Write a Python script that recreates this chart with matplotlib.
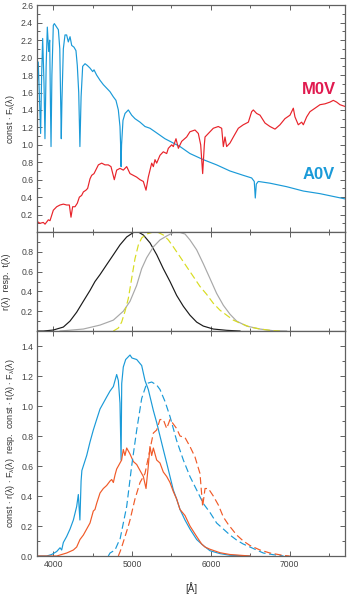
import matplotlib
matplotlib.use("Agg")
import matplotlib.pyplot as plt
from matplotlib.ticker import MultipleLocator, FixedLocator
import numpy as np

plt.rcParams['font.family'] = ['Liberation Sans', 'DejaVu Sans']
plt.rcParams['mathtext.fontset'] = 'custom'
plt.rcParams['mathtext.rm'] = 'Liberation Sans'
plt.rcParams['mathtext.it'] = 'Liberation Sans:italic'

# ---------------- Top panel: spectra ----------------
a0v_lam = [3800, 3812, 3825, 3842, 3855, 3868, 3885, 3897, 3912, 3927, 3944, 3957, 3966, 3974, 3985,
           4003, 4016, 4045, 4067, 4085, 4098, 4104, 4112, 4130, 4151, 4172, 4193, 4215, 4236, 4265,
           4290, 4307, 4325, 4340, 4355, 4375, 4405, 4434, 4468, 4502, 4519, 4552, 4595, 4637, 4679,
           4721, 4764, 4797, 4827, 4848, 4856, 4862, 4868, 4886, 4912, 4954, 4996, 5038, 5102, 5165,
           5228, 5292, 5355, 5418, 5482, 5524, 5609, 5735, 5904, 6073, 6242, 6411, 6517, 6550, 6563,
           6576, 6601, 6749, 6960, 7172, 7383, 7594, 7700]
a0v_flux = [1.70, 1.95, 1.60, 1.13, 1.80, 2.22, 1.70, 1.07, 1.90, 2.35, 2.07, 2.20, 1.50, 0.98, 1.80,
            2.37, 2.39, 2.35, 2.32, 2.10, 1.40, 1.07, 1.50, 2.10, 2.26, 2.26, 2.18, 2.24, 2.14, 2.12,
            2.08, 1.91, 1.60, 0.98, 1.55, 1.90, 1.93, 1.91, 1.88, 1.84, 1.86, 1.80, 1.74, 1.69, 1.65,
            1.61, 1.55, 1.51, 1.40, 1.21, 1.00, 0.75, 1.00, 1.28, 1.36, 1.40, 1.34, 1.30, 1.26, 1.21,
            1.19, 1.15, 1.11, 1.07, 1.04, 1.02, 0.98, 0.90, 0.83, 0.77, 0.70, 0.65, 0.62, 0.58, 0.39,
            0.55, 0.58, 0.56, 0.52, 0.47, 0.44, 0.40, 0.38]

m0v_lam = [3800, 3834, 3876, 3898, 3940, 3961, 3982, 4003, 4046, 4088, 4130, 4172, 4206, 4227, 4248,
           4278, 4307, 4333, 4362, 4384, 4417, 4438, 4468, 4489, 4519, 4552, 4574, 4616, 4658, 4700,
           4734, 4776, 4806, 4848, 4890, 4933, 4975, 5017, 5059, 5102, 5144, 5178, 5207, 5250, 5271,
           5292, 5313, 5355, 5397, 5440, 5461, 5482, 5503, 5524, 5558, 5588, 5630, 5693, 5735, 5799,
           5841, 5871, 5896, 5917, 5926, 5968, 6031, 6094, 6137, 6158, 6179, 6200, 6242, 6285, 6348,
           6411, 6475, 6517, 6538, 6580, 6623, 6686, 6749, 6813, 6876, 6939, 7003, 7045, 7066, 7108,
           7151, 7172, 7214, 7256, 7320, 7383, 7446, 7510, 7552, 7594, 7637, 7700]
m0v_flux = [0.12, 0.10, 0.11, 0.09, 0.14, 0.13, 0.19, 0.25, 0.29, 0.31, 0.32, 0.31, 0.31, 0.17, 0.29,
            0.29, 0.33, 0.40, 0.42, 0.46, 0.48, 0.50, 0.61, 0.65, 0.67, 0.73, 0.77, 0.79, 0.77, 0.77,
            0.75, 0.60, 0.71, 0.73, 0.71, 0.75, 0.67, 0.65, 0.63, 0.60, 0.58, 0.48, 0.63, 0.79, 0.75,
            0.83, 0.79, 0.88, 0.92, 0.90, 0.96, 0.98, 1.00, 0.98, 1.07, 0.96, 1.04, 1.09, 1.15, 1.17,
            1.13, 1.00, 0.67, 1.00, 1.09, 1.13, 1.19, 1.21, 1.19, 0.98, 1.09, 0.98, 1.02, 1.09, 1.19,
            1.23, 1.26, 1.38, 1.40, 1.36, 1.34, 1.25, 1.21, 1.18, 1.23, 1.30, 1.34, 1.42, 1.32, 1.23,
            1.26, 1.23, 1.32, 1.38, 1.42, 1.46, 1.47, 1.49, 1.51, 1.49, 1.46, 1.44]

# ---------------- Middle panel: response / transmission ----------------
r_lam = [3800, 3877, 4003, 4130, 4214, 4299, 4383, 4468, 4531, 4595, 4679, 4764, 4848, 4933, 5017,
         5081, 5144, 5229, 5314, 5397, 5482, 5566, 5651, 5735, 5820, 5904, 6031, 6200, 6369]
r_val = [0.0, 0.0, 0.01, 0.04, 0.10, 0.19, 0.30, 0.41, 0.50, 0.57, 0.67, 0.77, 0.87, 0.95, 0.995,
         1.0, 0.97, 0.89, 0.77, 0.63, 0.50, 0.36, 0.25, 0.16, 0.09, 0.05, 0.02, 0.007, 0.0]

t1_lam = [4088, 4383, 4595, 4764, 4890, 4975, 5059, 5123, 5186, 5271, 5355, 5440, 5524, 5609, 5672,
          5735, 5820, 5904, 5989, 6073, 6158, 6242, 6327, 6453, 6623, 6792, 6960]
t1_val = [0.0, 0.02, 0.06, 0.11, 0.20, 0.30, 0.46, 0.63, 0.74, 0.85, 0.92, 0.96, 0.995, 0.995, 0.98,
          0.92, 0.82, 0.68, 0.53, 0.38, 0.26, 0.17, 0.10, 0.05, 0.02, 0.003, 0.0]

t2_lam = [4764, 4827, 4869, 4912, 4954, 4996, 5038, 5081, 5123, 5186, 5271, 5334, 5397, 5461, 5524,
          5609, 5693, 5778, 5862, 5947, 6031, 6116, 6200, 6285, 6369, 6496, 6623, 6749, 6876]
t2_val = [0.0, 0.03, 0.09, 0.20, 0.33, 0.53, 0.73, 0.87, 0.94, 0.98, 1.0, 0.995, 0.97, 0.92, 0.85,
          0.75, 0.65, 0.55, 0.45, 0.37, 0.28, 0.21, 0.16, 0.11, 0.08, 0.04, 0.02, 0.007, 0.0]

# ---------------- Bottom panel: products ----------------
a0v_r_lam = [3800, 3919, 3982, 4046, 4088, 4109, 4130, 4172, 4215, 4257, 4299, 4320, 4340, 4355, 4365,
             4426, 4468, 4510, 4552, 4595, 4637, 4679, 4722, 4764, 4785, 4806, 4827, 4848, 4862, 4870,
             4890, 4920, 4975, 5000, 5060, 5123, 5165, 5207, 5271, 5313, 5355, 5397, 5440, 5482, 5524,
             5566, 5609, 5672, 5735, 5820, 5904, 5989, 6116, 6242, 6500]
a0v_r_val = [0.0, 0.0, 0.01, 0.03, 0.055, 0.04, 0.09, 0.13, 0.18, 0.24, 0.33, 0.41, 0.24, 0.50, 0.57,
             0.67, 0.76, 0.84, 0.91, 0.98, 1.02, 1.06, 1.10, 1.13, 1.17, 1.21, 1.17, 1.02, 0.64, 1.15,
             1.26, 1.31, 1.34, 1.32, 1.31, 1.27, 1.17, 1.11, 0.97, 0.89, 0.80, 0.71, 0.62, 0.53, 0.44,
             0.38, 0.31, 0.24, 0.18, 0.11, 0.07, 0.035, 0.016, 0.005, 0.0]

m0v_r_lam = [3800, 4046, 4172, 4215, 4257, 4299, 4341, 4384, 4426, 4468, 4510, 4531, 4552, 4595, 4637,
             4679, 4722, 4743, 4764, 4785, 4806, 4827, 4848, 4869, 4890, 4911, 4933, 4975, 5017, 5060,
             5102, 5144, 5178, 5207, 5228, 5250, 5271, 5313, 5355, 5397, 5440, 5482, 5524, 5566, 5609,
             5672, 5735, 5820, 5883, 5926, 5989, 6116, 6242, 6500]
m0v_r_val = [0.0, 0.0, 0.02, 0.03, 0.04, 0.06, 0.11, 0.14, 0.18, 0.22, 0.30, 0.31, 0.35, 0.42, 0.45,
             0.47, 0.50, 0.51, 0.49, 0.54, 0.58, 0.60, 0.62, 0.64, 0.71, 0.67, 0.72, 0.68, 0.63, 0.61,
             0.57, 0.53, 0.45, 0.60, 0.73, 0.67, 0.72, 0.64, 0.62, 0.56, 0.53, 0.49, 0.43, 0.38, 0.31,
             0.27, 0.20, 0.13, 0.08, 0.06, 0.045, 0.022, 0.01, 0.0]

a0v_t_lam = [4700, 4722, 4785, 4827, 4848, 4933, 4996, 5060, 5123, 5186, 5250, 5313, 5355, 5419, 5482,
             5566, 5651, 5735, 5820, 5904, 5989, 6073, 6158, 6242, 6330, 6410, 6496, 6580, 6665, 6790,
             6920]
a0v_t_val = [0.0, 0.02, 0.04, 0.09, 0.11, 0.33, 0.60, 0.84, 1.05, 1.15, 1.16, 1.14, 1.11, 1.03, 0.93,
             0.77, 0.64, 0.53, 0.44, 0.35, 0.29, 0.22, 0.18, 0.14, 0.105, 0.08, 0.06, 0.04, 0.02, 0.009,
             0.0]

m0v_t_lam = [4827, 4850, 4870, 4912, 4954, 4975, 5038, 5102, 5165, 5228, 5271, 5313, 5355, 5397, 5440,
             5482, 5524, 5566, 5609, 5672, 5735, 5799, 5862, 5896, 5926, 5968, 6031, 6095, 6158, 6221,
             6327, 6411, 6496, 6623, 6749, 6918, 7000]
m0v_t_val = [0.0, 0.03, 0.06, 0.13, 0.20, 0.24, 0.38, 0.49, 0.55, 0.71, 0.82, 0.84, 0.91, 0.91, 0.85,
             0.91, 0.88, 0.85, 0.80, 0.79, 0.73, 0.66, 0.55, 0.33, 0.45, 0.45, 0.40, 0.34, 0.26, 0.21,
             0.14, 0.10, 0.07, 0.04, 0.02, 0.004, 0.0]

x_tick_labels = ['4000', '5000', '6000', '7000']

# ---------------- Styling ----------------
BLUE = '#1a9ad8'
RED = '#e8232a'
ORANGE = '#f05a28'
TXT = '#444444'
SPINE = '#606060'

fig = plt.figure(figsize=(3.47, 5.96), dpi=100)
L, W = 0.1075, 0.8867
ax1 = fig.add_axes([L, 0.6107, W, 0.3804])
ax2 = fig.add_axes([L, 0.4446, W, 0.1661])
ax3 = fig.add_axes([L, 0.0671, W, 0.3775])

for ax in (ax1, ax2, ax3):
    ax.set_xlim(3800, 7700)
    ax.xaxis.set_major_locator(FixedLocator([4000, 5000, 6000, 7000]))
    ax.xaxis.set_minor_locator(MultipleLocator(500))
    ax.tick_params(which='both', direction='in', top=True, right=True,
                   color=SPINE, width=0.7, labelsize=6.2, labelcolor=TXT, pad=3)
    ax.tick_params(which='major', length=3.5)
    ax.tick_params(which='minor', length=2)
    for s in ax.spines.values():
        s.set_color(SPINE)
        s.set_linewidth(0.9)

# top
ax1.plot(a0v_lam, a0v_flux, color=BLUE, lw=0.85)
ax1.plot(m0v_lam, m0v_flux, color=RED, lw=0.85)
ax1.set_ylim(0, 2.6)
yt1 = [0.2, 0.4, 0.6, 0.8, 1.0, 1.2, 1.4, 1.6, 1.8, 2.0, 2.2, 2.4, 2.6]
ax1.yaxis.set_major_locator(FixedLocator(yt1))
ax1.yaxis.set_minor_locator(MultipleLocator(0.1))
ax1.set_yticklabels(['%.1f' % v for v in yt1])
ax1.tick_params(labelbottom=False)
ax1.set_ylabel(r'const $\cdot$ F$_\mathregular{λ}$(λ)', fontsize=6.5, color='#333333', labelpad=3)
ax1.text(7370, 1.635, 'M0V', color='#e01a4f', fontsize=12, fontweight='bold', ha='center', va='center')
ax1.text(7370, 0.66, 'A0V', color=BLUE, fontsize=12, fontweight='bold', ha='center', va='center')

# middle
ax2.plot(r_lam, r_val, color='#1a1a1a', lw=0.85)
ax2.plot(t1_lam, t1_val, color='#a8a8a8', lw=0.85)
ax2.plot(t2_lam, t2_val, color='#d8dc20', lw=0.85, dashes=(6, 3))
ax2.set_ylim(0, 1.0)
ax2.yaxis.set_major_locator(FixedLocator([0.2, 0.4, 0.6, 0.8]))
ax2.yaxis.set_minor_locator(MultipleLocator(0.1))
ax2.set_yticklabels(['0.2', '0.4', '0.6', '0.8'])
ax2.tick_params(labelbottom=False)
ax2.set_ylabel('r(λ)  resp.  t(λ)', fontsize=6.5, color='#333333', labelpad=7)

# bottom
ax3.plot(a0v_r_lam, a0v_r_val, color=BLUE, lw=0.85)
ax3.plot(m0v_r_lam, m0v_r_val, color=ORANGE, lw=0.85)
ax3.plot(a0v_t_lam, a0v_t_val, color=BLUE, lw=0.85, dashes=(6, 3))
ax3.plot(m0v_t_lam, m0v_t_val, color=ORANGE, lw=0.85, dashes=(6, 3))
ax3.set_ylim(0, 1.5)
yt3 = [0.0, 0.2, 0.4, 0.6, 0.8, 1.0, 1.2, 1.4]
ax3.yaxis.set_major_locator(FixedLocator(yt3))
ax3.yaxis.set_minor_locator(MultipleLocator(0.1))
ax3.set_yticklabels(['%.1f' % v for v in yt3])
ax3.set_xticklabels(x_tick_labels)
ax3.set_ylabel(r'const $\cdot$ r(λ) $\cdot$ F$_\mathregular{λ}$(λ)  resp.  const $\cdot$ t(λ) $\cdot$ F$_\mathregular{λ}$(λ)',
               fontsize=6.5, color='#333333', labelpad=3)
ax3.set_xlabel('[Å]', fontsize=7, color='#333333', labelpad=9)

fig.savefig('out.png', dpi=100)
